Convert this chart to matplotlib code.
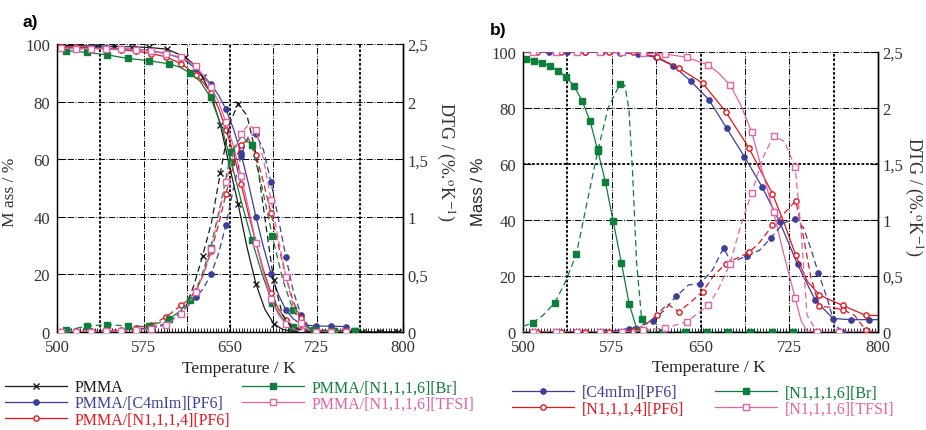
import matplotlib
matplotlib.use("Agg")
import matplotlib.pyplot as plt
import numpy as np

plt.rcParams['font.family'] = ['Liberation Serif', 'DejaVu Serif']
plt.rcParams['mathtext.fontset'] = 'stix'

# ---------------- data: panel a ----------------
A_T_BLACK = [503, 518.4, 533.8, 549.2, 564.6, 580, 595.4, 610.8, 618.5, 626.2, 633.9, 641.6, 649.3,
             657, 664.7, 672.4, 680.1, 687.8, 695.5, 703.2, 718.6, 734, 749.4, 764.8, 780.2, 795.6]
A_MASS_BLACK = [99.5, 99.4, 99.3, 99.2, 99.0, 98.8, 98.2, 95.5, 93.0, 88.5, 82.0, 72.0, 58.0,
                44.5, 29.5, 16.8, 8.0, 2.9, 0.9, 0.3, 0, 0, 0, 0, 0, 0]
A_DTG_BLACK = [0, 0, 0.005, 0.01, 0.02, 0.03, 0.07, 0.2, 0.4, 0.66, 0.95, 1.38, 1.8,
               1.98, 1.88, 1.55, 1.0, 0.45, 0.15, 0.04, 0, 0, 0, 0, 0, 0]
A_MK_BLACK = [0, 1, 2, 3, 4, 5, 6, 7, 9, 11, 13, 15, 17, 19, 20, 21, 22, 23, 24, 25]
A_MK_BLACK_D = [9, 11, 13, 17, 24, 25]

A_T13 = [503.5, 516.5, 529.5, 542.5, 555.5, 568.5, 581.5, 594.5, 607.5, 614, 620.5, 627, 633.5, 640,
         646.5, 653, 659.5, 666, 672.5, 679, 685.5, 692, 698.5, 705, 711.5, 718, 724.5, 737.5, 750.5]
A_MK13 = [0, 1, 2, 3, 4, 5, 6, 7, 8, 10, 12, 14, 16, 18, 20, 22, 24, 26, 27, 28]
A_MASS_BLUE = [99.0, 98.9, 98.8, 98.6, 98.4, 98.1, 97.6, 96.8, 95.0, 93.5, 91.3, 89.0, 86.0, 82.3,
               77.3, 70.5, 62.0, 51.5, 40.0, 29.5, 20.3, 13.0, 7.5, 4.5, 2.8, 2.3, 2.1, 2.0, 1.9]
A_DTG_BLUE = [0, 0, 0, 0.005, 0.01, 0.02, 0.04, 0.07, 0.165, 0.23, 0.3, 0.38, 0.5, 0.68,
              0.93, 1.25, 1.53, 1.7, 1.72, 1.58, 1.3, 0.98, 0.65, 0.35, 0.15, 0.05, 0.01, 0, 0]
A_MASS_RED = [99.0, 98.9, 98.6, 98.3, 98.0, 97.5, 96.7, 95.5, 93.2, 91.3, 89.2, 86.5, 83.0, 77.8,
              70.3, 62.0, 51.5, 41.0, 31.0, 21.5, 13.5, 8.0, 4.3, 2.0, 0.8, 0.4, 0.3, 0.2, 0.2]
A_DTG_RED = [0, 0.005, 0.005, 0.01, 0.02, 0.035, 0.06, 0.13, 0.23, 0.28, 0.36, 0.5, 0.7, 0.93,
             1.2, 1.45, 1.62, 1.68, 1.54, 1.3, 1.03, 0.75, 0.48, 0.26, 0.12, 0.04, 0.01, 0, 0]
A_MASS_PINK = [98.5, 98.4, 98.4, 98.3, 98.2, 98.0, 97.5, 96.6, 95.4, 94.0, 92.2, 89.0, 85.0, 80.0,
               72.8, 64.5, 54.3, 43.0, 31.0, 20.5, 11.5, 6.0, 2.7, 1.2, 0.5, 0.2, 0.1, 0.1, 0.1]
A_DTG_PINK = [0, 0, 0, 0.005, 0.01, 0.015, 0.03, 0.06, 0.16, 0.24, 0.35, 0.5, 0.72, 1.0,
              1.3, 1.55, 1.72, 1.8, 1.75, 1.5, 1.15, 0.8, 0.48, 0.22, 0.08, 0.02, 0, 0, 0]

A_T_GREEN = [507.8, 525.7, 543.6, 561.5, 579.4, 597.3, 606.3, 615.2, 624.2, 633.1, 642.1, 651, 660,
             668.9, 677.9, 686.8, 695.8, 704.7, 713.7, 722.6, 740.5, 758.4]
A_MK_GREEN = [0, 1, 2, 3, 4, 5, 7, 9, 11, 13, 15, 17, 19, 20, 21]
A_MASS_GREEN = [97.7, 97.1, 96.2, 95.0, 94.2, 93.1, 92.0, 90.0, 87.0, 81.5, 72.0, 59.0, 45.0,
                32.0, 20.0, 10.0, 4.5, 1.8, 0.9, 0.6, 0.5, 0.5]
A_DTG_GREEN = [0.015, 0.05, 0.065, 0.05, 0.05, 0.11, 0.18, 0.28, 0.45, 0.73, 1.12, 1.56, 1.7,
               1.62, 1.25, 0.83, 0.45, 0.19, 0.06, 0.015, 0.01, 0.01]

# ---------------- data: panel b ----------------
B_T_BLUE_M = [500, 522, 537, 552, 567, 582, 597, 612, 627, 642, 657, 672, 687, 702, 717, 732, 747,
              762, 777, 792, 800]
B_MK_BLUE_M = list(range(1, 20))
B_MASS_BLUE = [99.8, 99.8, 99.8, 99.8, 99.8, 99.6, 99.2, 98.0, 95.0, 89.4, 82.9, 72.8, 62.6, 51.8,
               39.2, 24.1, 11.3, 4.8, 4.4, 4.4, 4.4]
B_T_BLUE_D = [500, 509.5, 529.5, 549.5, 569.5, 589.5, 600, 609.5, 620, 629.5, 640, 649.5, 660, 669.5,
              676, 689.5, 700, 709.5, 720, 729.5, 737, 743, 749.5, 757, 763, 769.5, 789.5, 800]
B_MK_BLUE_D = [4, 5, 7, 9, 11, 13, 15, 17, 19, 22, 25]
B_DTG_BLUE = [0, 0, 0, 0, 0, 0.03, 0.06, 0.1, 0.2, 0.32, 0.42, 0.43, 0.55, 0.75,
              0.62, 0.68, 0.73, 0.84, 0.97, 1.01, 0.93, 0.75, 0.53, 0.3, 0.08, 0, 0, 0]

B_T_RED_M = [500, 512, 532.5, 552, 572.5, 592.6, 612.9, 631.8, 651.8, 671.3, 691, 710.8, 720.6,
             730.5, 740.4, 750.3, 760, 770, 789.8, 800]
B_MK_RED_M = [1, 2, 3, 4, 5, 6, 7, 8, 9, 10, 11, 13, 15, 17, 18]
B_MASS_RED = [100, 100, 100, 100, 100, 100, 98.2, 94.1, 88.8, 78.6, 65.6, 49.3, 39.0,
              27.3, 18.0, 13.3, 11.3, 9.5, 5.9, 5.9]
B_T_RED_D = [512, 532.5, 552, 572.5, 592.6, 603, 612.9, 622, 631.8, 642, 651.8, 661, 671.3, 681,
             691, 700, 710.8, 720, 730.5, 737, 743, 750.3, 760, 770, 780, 789.8, 800]
B_MK_RED_D = [0, 1, 2, 3, 4, 6, 8, 10, 12, 14, 16, 18, 21, 23, 25]
B_DTG_RED = [0, 0, 0, 0, 0.01, 0.06, 0.15, 0.25, 0.18, 0.27, 0.36, 0.5, 0.61, 0.66,
             0.71, 0.8, 0.95, 1.05, 1.17, 0.85, 0.5, 0.23, 0.22, 0.2, 0.15, 0.015, 0]

B_T_PINK = [500, 508.5, 527.6, 546, 565, 583.8, 601.6, 620, 638.3, 656.7, 665, 675, 684, 693.3,
            702.5, 711.7, 720.8, 730, 735, 740, 748.4, 766.7, 800]
B_MK_PINK = [1, 2, 3, 4, 5, 6, 7, 8, 9, 11, 13, 15, 17, 20, 21]
B_MASS_PINK = [100, 100, 100, 100, 100, 99.8, 99.5, 99.2, 98.0, 95.2, 92.5, 88.1, 81.0, 71.3,
               57.0, 42.8, 27.0, 12.1, 4.0, 0.3, 0, 0, 0]
B_DTG_PINK = [0, 0, 0, 0, 0, 0, 0.015, 0.035, 0.09, 0.24, 0.38, 0.61, 0.95, 1.24,
              1.55, 1.75, 1.7, 1.47, 0.9, 0.15, 0, 0, 0]

B_T_GREEN_M = [500, 502.8, 509, 516, 522.6, 529.6, 536.7, 543.2, 550, 556.7, 563.2, 569.7, 576.2,
               583.2, 589.7, 596.5, 600]
B_MK_GREEN_M = list(range(1, 16))
B_MASS_GREEN = [97.6, 97.4, 96.8, 96.1, 95.0, 93.2, 90.9, 87.6, 82.5, 75.2, 64.7, 53.4, 39.5,
                24.6, 10.0, 0.6, 0]
B_T_GREEN_D = [500, 508.5, 517, 526.8, 536, 545.2, 554, 563.5, 572, 581.8, 586, 589.5, 592.3, 596,
               600.2, 605, 618.5, 636.8, 655.1, 673.4, 691.7, 710, 728.3]
B_MK_GREEN_D = [1, 3, 5, 7, 9, 14, 16, 17, 18, 19, 20, 21, 22]
B_DTG_GREEN = [0.05, 0.083, 0.15, 0.26, 0.45, 0.70, 1.15, 1.63, 2.0, 2.21, 2.2, 1.99, 1.48, 0.62,
               0.12, 0.01, 0, 0, 0, 0, 0, 0, 0]

X_TICKS = [500, 575, 650, 725, 800]
Y_TICKS = [0, 20, 40, 60, 80, 100]
DTG_TICKS = [0, 0.5, 1, 1.5, 2, 2.5]
DTG_LABELS = ['0', '0,5', '1', '1,5', '2', '2,5']
GRID_X_MAJOR = [537.5, 650, 762.5]
GRID_X_MINOR = [575, 612.5, 687.5, 725]
GRID_Y = [20, 40, 60, 80, 100]

BLACK = '#1a1a1a'
BLUE = '#3b3f98'
RED = '#e8151d'
GREEN = '#0d7f3a'
PINK = '#e463a6'

DASH = (0, (5, 3))
SERIF = 'Liberation Serif'

fig = plt.figure(figsize=(9.26, 4.31), dpi=100)
axA = fig.add_axes([0.0616, 0.2274, 0.3736, 0.6682])
axB = fig.add_axes([0.5648, 0.2274, 0.3834, 0.6503])


def style(ax, thick_y=()):
    ax.set_xlim(500, 800)
    ax.set_ylim(0, 100)
    for g in GRID_X_MAJOR:
        ax.axvline(g, color='black', lw=1.3, ls=(0, (1.5, 1.0)), zorder=0.5)
    for g in GRID_X_MINOR:
        ax.axvline(g, color='black', lw=0.7, ls='-.', zorder=0.5)
    for g in GRID_Y:
        if g in thick_y:
            ax.axhline(g, color='black', lw=1.3, ls=(0, (1.5, 1.0)), zorder=0.5)
        else:
            ax.axhline(g, color='black', lw=0.7, ls='-.', zorder=0.5)
    ax.set_xticks(X_TICKS)
    ax.set_xticks(np.arange(500, 800.1, 2.5), minor=True)
    ax.set_yticks(Y_TICKS)
    ax.tick_params(axis='both', which='major', direction='in', length=6, width=0.8,
                   labelsize=12, pad=5, labelfontfamily=SERIF, labelcolor='#333333')
    ax.tick_params(axis='x', which='minor', direction='in', length=3, width=0.6)
    ax.tick_params(axis='y', which='minor', left=False)
    ax.spines['top'].set_visible(False)
    for s in ('left', 'bottom', 'right'):
        ax.spines[s].set_linewidth(1.0)
    ax2 = ax.twinx()
    ax2.set_ylim(0, 2.5)
    ax2.set_yticks(DTG_TICKS)
    ax2.set_yticklabels(DTG_LABELS)
    ax2.tick_params(axis='y', direction='in', length=6, width=0.8, labelsize=12, pad=3,
                    labelfontfamily=SERIF, labelcolor='#333333')
    ax2.spines['top'].set_visible(False)
    ax2.spines['right'].set_linewidth(1.0)
    return ax2


axA2 = style(axA)
axB2 = style(axB, thick_y=(60,))


def draw(ax, ax2, tm, mass, mkm, td, dtg, mkd, color, marker, mfc, label, ms=3.8):
    ln, = ax.plot(tm, mass, color=color, lw=0.9, marker=marker, markevery=mkm, ms=ms,
                  mfc=mfc, mec=color, mew=1.0, label=label, zorder=3)
    ax2.plot(td, dtg, color=color, lw=0.9, ls=DASH, marker=marker, markevery=mkd, ms=ms,
             mfc=mfc, mec=color, mew=1.0, zorder=3)
    return ln


# panel a
hA = []
hA.append(draw(axA, axA2, A_T_BLACK, A_MASS_BLACK, A_MK_BLACK, A_T_BLACK, A_DTG_BLACK,
               A_MK_BLACK_D, BLACK, 'x', BLACK, 'PMMA', ms=4))
hA.append(draw(axA, axA2, A_T13, A_MASS_BLUE, A_MK13, A_T13, A_DTG_BLUE, A_MK13,
               BLUE, 'o', BLUE, 'PMMA/[C4mIm][PF6]'))
hA.append(draw(axA, axA2, A_T13, A_MASS_RED, A_MK13, A_T13, A_DTG_RED, A_MK13,
               RED, 'o', 'white', 'PMMA/[N1,1,1,4][PF6]'))
hA.append(draw(axA, axA2, A_T_GREEN, A_MASS_GREEN, A_MK_GREEN, A_T_GREEN, A_DTG_GREEN, A_MK_GREEN,
               GREEN, 's', GREEN, 'PMMA/[N1,1,1,6][Br]'))
hA.append(draw(axA, axA2, A_T13, A_MASS_PINK, A_MK13, A_T13, A_DTG_PINK, A_MK13,
               PINK, 's', 'white', 'PMMA/[N1,1,1,6][TFSI]'))

# panel b
hB = []
hB.append(draw(axB, axB2, B_T_BLUE_M, B_MASS_BLUE, B_MK_BLUE_M, B_T_BLUE_D, B_DTG_BLUE, B_MK_BLUE_D,
               BLUE, 'o', BLUE, '[C4mIm][PF6]'))
hB.append(draw(axB, axB2, B_T_RED_M, B_MASS_RED, B_MK_RED_M, B_T_RED_D, B_DTG_RED, B_MK_RED_D,
               RED, 'o', 'white', '[N1,1,1,4][PF6]'))
hB.append(draw(axB, axB2, B_T_GREEN_M, B_MASS_GREEN, B_MK_GREEN_M, B_T_GREEN_D, B_DTG_GREEN,
               B_MK_GREEN_D, GREEN, 's', GREEN, '[N1,1,1,6][Br]'))
hB.append(draw(axB, axB2, B_T_PINK, B_MASS_PINK, B_MK_PINK, B_T_PINK, B_DTG_PINK, B_MK_PINK,
               PINK, 's', 'white', '[N1,1,1,6][TFSI]'))

# labels
for ax, x in ((axA, 0.526), (axB, 0.524)):
    ax.set_xlabel('Temperature / K', fontsize=12.5, family=SERIF, color='#222222')
    ax.xaxis.set_label_coords(x, -0.098)

axA.set_ylabel('M ass / %', fontsize=12.5, family=SERIF, color='#333333')
axA.yaxis.set_label_coords(-0.113, 0.49)
axB.set_ylabel('Mass / %', fontsize=12, family=['Liberation Sans', 'DejaVu Sans'], color='#222222')
axB.yaxis.set_label_coords(-0.104, 0.503)

dtg_label = 'DTG / (%.$^{\\mathrm{o}}$K$^{\\mathrm{-1}}$)'
axA2.set_ylabel(dtg_label, fontsize=13, rotation=270, va='center', family=SERIF, color='#333333')
axA2.yaxis.set_label_coords(1.121, 0.594)
axB2.set_ylabel(dtg_label, fontsize=13, rotation=270, va='center', family=SERIF, color='#333333')
axB2.yaxis.set_label_coords(1.100, 0.485)

fig.text(0.024, 1 - 22 / 431, 'a)', fontsize=12.5, fontweight='bold',
         family=['Liberation Sans', 'DejaVu Sans'], va='center', ha='left')
fig.text(0.529, 1 - 30 / 431, 'b)', fontsize=12.5, fontweight='bold',
         family=['Liberation Sans', 'DejaVu Sans'], va='center', ha='left')


def add_legend(handles, colors, x, y, fs):
    leg = fig.legend(handles=handles, loc='upper left', bbox_to_anchor=(x, y),
                     frameon=False, fontsize=fs, handlelength=3.9, handletextpad=0.45,
                     labelspacing=0.02, borderpad=0, borderaxespad=0, numpoints=1,
                     prop={'family': SERIF, 'size': fs})
    for t, c in zip(leg.get_texts(), colors):
        t.set_color(c)
    return leg


add_legend(hA[:3], [BLACK, BLUE, RED], 0.005, 0.118, 11.5)
add_legend(hA[3:], [GREEN, PINK], 0.2613, 0.118, 11.5)
add_legend([hB[0], hB[1]], [BLUE, RED], 0.5529, 0.106, 11.5)
add_legend([hB[2], hB[3]], [GREEN, PINK], 0.7721, 0.106, 11.5)

fig.savefig('out.png', dpi=100)
